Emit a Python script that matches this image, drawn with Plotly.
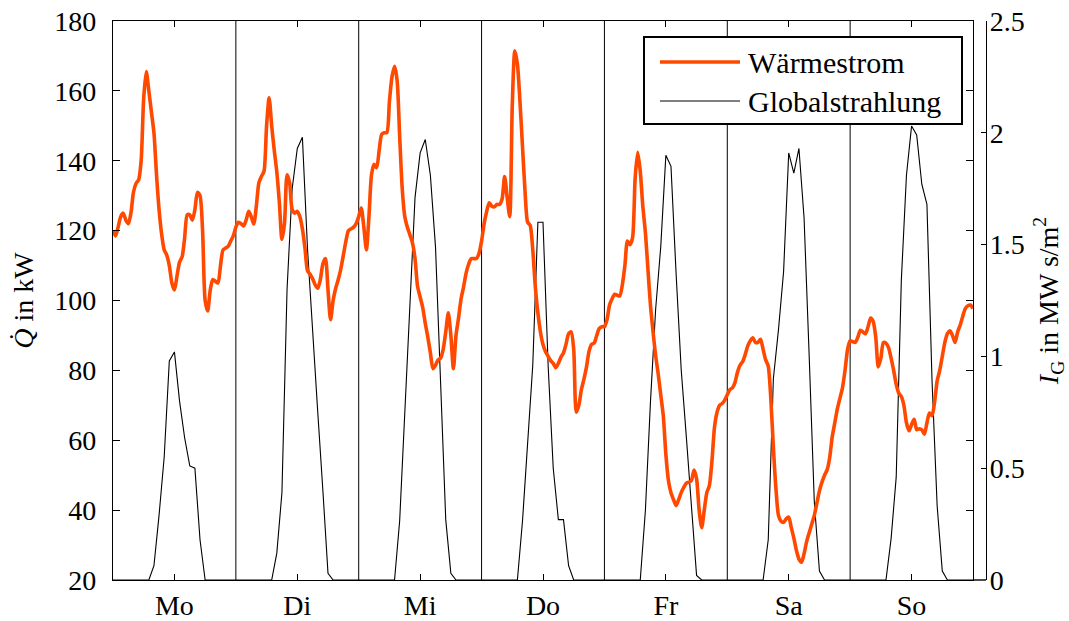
import numpy as np
import plotly.graph_objects as go

# Day labels of the week (German)
days = ["Mo", "Di", "Mi", "Do", "Fr", "Sa", "So"]

# Wärmestrom in kW, half-hourly values per day (00:00, 00:30, ..., 23:30)
heat_mo = [120, 118.5, 121, 124, 125, 123, 122, 125, 131, 133.5, 134.5, 140,
           158, 165.5, 160, 154, 148, 136, 126, 119, 114.5, 113, 110, 105,
           103, 107, 111, 112.5, 118, 124.5, 124.5, 123, 126, 131, 130, 120,
           100, 97, 103, 106, 105.5, 105, 110, 114.5, 115, 115.5, 117, 118.5]
heat_di = [121, 122.4, 122, 121.3, 123, 125.5, 124, 121.9, 127, 133.7, 135.5, 137,
           150, 158, 150, 143, 136.8, 128, 117.5, 122, 136, 133.7, 126, 125,
           125.5, 124, 120.5, 115, 108.5, 107.5, 106.2, 104.5, 103.5, 106, 110.5, 112,
           103, 94.5, 100, 103.5, 106, 109, 113, 117, 120, 120.5, 121, 122]
heat_mi = [124, 126.5, 121, 114.5, 124, 136, 139, 138, 143, 147.6, 148, 148.1,
           157, 164, 167, 163, 147, 132, 124, 121, 118.8, 116.5, 112, 104,
           101, 98, 93.5, 89.5, 85, 80.5, 81.5, 83, 83.5, 86, 91, 96.5,
           90, 80.5, 90, 95, 100.5, 104, 108, 110.5, 112, 112, 112, 113.5]
heat_do = [117, 122, 125.5, 128, 127, 126.8, 127.5, 127.5, 129, 135.5, 129.5, 124,
           156, 171.5, 167.7, 157, 144, 131, 122.4, 121.5, 114.5, 104, 96.5, 91,
           87.4, 85.3, 84, 82.8, 82, 80.8, 82, 83.8, 85, 87.5, 90.5, 91,
           86, 68, 70, 74.5, 77.5, 81, 85.5, 87.5, 87.8, 90, 92, 92.5]
heat_fr = [92.5, 94.5, 98.7, 100.5, 101.8, 101.5, 101.3, 104.5, 110, 117, 116, 118,
           135, 142.4, 137, 127, 119.5, 109, 98.5, 91, 84.3, 79, 73, 67,
           56, 48.5, 45, 43, 41.3, 43, 45, 46.5, 47.7, 48, 48.5, 51.5,
           49, 40, 35, 40, 45, 47, 54, 63.7, 68, 70, 70.5, 71.5]
heat_sa = [73, 74.5, 75, 76.5, 79.5, 81.5, 82.5, 84.5, 87, 88.5, 89.3, 88,
           88, 88.9, 86, 83, 81.2, 72, 58, 46.2, 38.5, 36.8, 36.5, 37.5,
           38, 35, 32, 28.5, 26, 25.1, 27.5, 31, 33.5, 36, 38.5, 42,
           45.5, 48, 50, 51.5, 55, 61, 65, 69, 72, 75, 80, 86]
heat_so = [88.5, 88.2, 88, 89.5, 91.5, 91, 90.5, 92.5, 95, 94, 89.5, 81,
           83.5, 88, 87.8, 86.5, 83.5, 80, 76, 73.5, 72.5, 70, 65, 62.7,
           64.5, 66, 63, 63.3, 63, 61.7, 65, 67.8, 67, 71, 77, 80,
           84, 88, 90.5, 91.3, 90, 88, 91, 93, 95.5, 97.7, 98.5, 98.7]
heat_final = [97.7]

# Globalstrahlung in MW s/m², hourly values per day (00:00 ... 23:00)
irr_mo = [0, 0, 0, 0, 0, 0, 0, 0, 0.064, 0.29, 0.55, 0.98,
          1.02, 0.80, 0.635, 0.51, 0.50, 0.18, 0, 0, 0, 0, 0, 0]
irr_di = [0, 0, 0, 0, 0, 0, 0, 0, 0.12, 0.39, 1.30, 1.75,
          1.93, 1.98, 1.48, 1.10, 0.75, 0.40, 0.03, 0, 0, 0, 0, 0]
irr_mi = [0, 0, 0, 0, 0, 0, 0, 0, 0.265, 0.75, 1.25, 1.71,
          1.91, 1.97, 1.81, 1.49, 0.88, 0.27, 0.03, 0, 0, 0, 0, 0]
irr_do = [0, 0, 0, 0, 0, 0, 0, 0, 0.265, 0.60, 0.96, 1.60,
          1.60, 0.96, 0.50, 0.27, 0.27, 0.064, 0, 0, 0, 0, 0, 0]
irr_fr = [0, 0, 0, 0, 0, 0, 0, 0, 0.31, 0.80, 1.21, 1.49,
          1.90, 1.85, 1.37, 0.94, 0.64, 0.33, 0.02, 0, 0, 0, 0, 0]
irr_sa = [0, 0, 0, 0, 0, 0, 0, 0, 0.18, 0.90, 1.12, 1.38,
          1.91, 1.82, 1.93, 1.62, 1.00, 0.35, 0.04, 0, 0, 0, 0, 0]
irr_so = [0, 0, 0, 0, 0, 0, 0, 0, 0.185, 0.46, 1.34, 1.81,
          2.03, 1.99, 1.77, 1.68, 0.89, 0.33, 0.04, 0, 0, 0, 0, 0]
irr_final = [0]

heat = heat_mo + heat_di + heat_mi + heat_do + heat_fr + heat_sa + heat_so + heat_final
irr = irr_mo + irr_di + irr_mi + irr_do + irr_fr + irr_sa + irr_so + irr_final
t_heat = np.arange(len(heat)) * 0.5   # hours since Monday 00:00
t_irr = np.arange(len(irr)) * 1.0

FONT = "Liberation Serif, Times New Roman, serif"
FS = 28
ORANGE = "#ff4800"

# page geometry (px)
W, H = 1069, 621
ML, MR, MT, MB = 113, 83, 21, 41
PW = W - ML - MR            # paper width incl. offset right axis
PH = H - MT - MB
XDOM = 860 / PW             # frame ends 13 px before the right axis

def px(xp):
    return (xp - ML) / PW

def py(yp):
    return (H - MB - yp) / PH

fig = go.Figure()
# irradiance on the base y axis so the heat curve is drawn above it
fig.add_trace(go.Scatter(
    x=t_irr, y=irr, mode="lines", name="Globalstrahlung",
    line=dict(color="black", width=1.1), yaxis="y", xaxis="x",
    hoverinfo="skip"))
fig.add_trace(go.Scatter(
    x=t_heat, y=heat, mode="lines", name="Wärmestrom",
    line=dict(color=ORANGE, width=3.6, shape="spline", smoothing=0.7),
    yaxis="y2", xaxis="x", hoverinfo="skip"))

shapes = []
# vertical separators between days
for k in range(1, len(days)):
    shapes.append(dict(type="line", xref="x", yref="paper", x0=24 * k, x1=24 * k,
                       y0=0, y1=1, line=dict(color="black", width=1), layer="below"))
# bottom line continues to the right-hand axis
shapes.append(dict(type="line", xref="paper", yref="paper", x0=XDOM, x1=1, y0=0, y1=0,
                   line=dict(color="black", width=1.4)))

# legend box
lx0, lx1, ly0, ly1 = px(644), px(962), py(124), py(37)
shapes.append(dict(type="rect", xref="paper", yref="paper", x0=lx0, x1=lx1, y0=ly0, y1=ly1,
                   line=dict(color="black", width=2), fillcolor="white"))
shapes.append(dict(type="line", xref="paper", yref="paper", x0=px(660), x1=px(740),
                   y0=py(62), y1=py(62), line=dict(color=ORANGE, width=3.6)))
shapes.append(dict(type="line", xref="paper", yref="paper", x0=px(660), x1=px(740),
                   y0=py(101), y1=py(101), line=dict(color="black", width=1.1)))

annotations = [
    dict(xref="paper", yref="paper", x=px(746), y=py(62), text="Wärmestrom",
         showarrow=False, xanchor="left", yanchor="middle",
         font=dict(family=FONT, size=30, color="black")),
    dict(xref="paper", yref="paper", x=px(746), y=py(101), text="Globalstrahlung",
         showarrow=False, xanchor="left", yanchor="middle",
         font=dict(family=FONT, size=30, color="black")),
]

axis_common = dict(showgrid=False, zeroline=False, showline=True, linecolor="black",
                   linewidth=1.4, tickcolor="black", tickwidth=1.4, automargin=False,
                   tickfont=dict(family=FONT, size=FS, color="black"))

fig.update_layout(
    width=W, height=H,
    margin=dict(l=ML, r=MR, t=MT, b=MB, pad=0, autoexpand=False),
    paper_bgcolor="white", plot_bgcolor="white",
    showlegend=False,
    font=dict(family=FONT, size=FS, color="black"),
    xaxis=dict(domain=[0, XDOM], range=[0, 168], anchor="y2",
               tickvals=[24 * k + 12 for k in range(len(days))], ticktext=days,
               ticks="inside", ticklen=6, mirror="ticks", ticklabelstandoff=0,
               **axis_common),
    yaxis=dict(range=[0, 2.5], dtick=0.5, side="right", anchor="free", position=1,
               ticks="inside", ticklen=5, ticklabelstandoff=-3,
               title=dict(text="<i>I</i><sub>G</sub> in MW s/m<sup>2</sup>",
                          font=dict(family=FONT, size=FS), standoff=14),
               **axis_common),
    yaxis2=dict(range=[20, 180], dtick=20, overlaying="y", side="left", anchor="x",
                ticks="inside", ticklen=7, mirror="ticks", ticklabelstandoff=10,
                title=dict(text="<i>Q̇</i> in kW", font=dict(family=FONT, size=FS),
                           standoff=12),
                **axis_common),
    shapes=shapes,
    annotations=annotations,
)

fig.write_html("out.html")
